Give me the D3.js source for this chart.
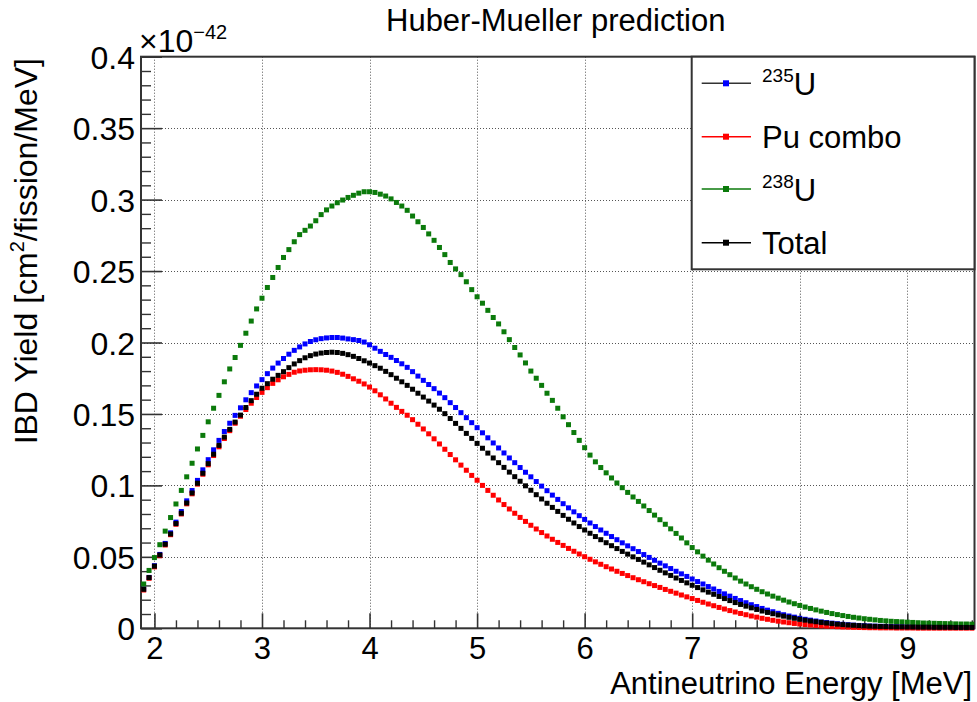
<!DOCTYPE html>
<html>
<head>
<meta charset="utf-8">
<script src="https://cdn.jsdelivr.net/npm/d3@7"></script>
<style>
  html, body { margin: 0; padding: 0; background: #fff; }
  svg { display: block; }
  text { font-family: "Liberation Sans", Arial, Helvetica, sans-serif; fill: #000; }
</style>
</head>
<body>
<script>
// ---------------- DATA (values in units of 1e-42 cm^2/fission/MeV) ----------------
const energies = [
  1.9,1.95,2,2.05,2.1,2.15,2.2,2.25,2.3,2.35,2.4,2.45,2.5,2.55,2.6,2.65,2.7,2.75,2.8,2.85,2.9,2.95,
  3,3.05,3.1,3.15,3.2,3.25,3.3,3.35,3.4,3.45,3.5,3.55,3.6,3.65,3.7,3.75,3.8,3.85,3.9,3.95,
  4,4.05,4.1,4.15,4.2,4.25,4.3,4.35,4.4,4.45,4.5,4.55,4.6,4.65,4.7,4.75,4.8,4.85,4.9,4.95,
  5,5.05,5.1,5.15,5.2,5.25,5.3,5.35,5.4,5.45,5.5,5.55,5.6,5.65,5.7,5.75,5.8,5.85,5.9,5.95,
  6,6.05,6.1,6.15,6.2,6.25,6.3,6.35,6.4,6.45,6.5,6.55,6.6,6.65,6.7,6.75,6.8,6.85,6.9,6.95,
  7,7.05,7.1,7.15,7.2,7.25,7.3,7.35,7.4,7.45,7.5,7.55,7.6,7.65,7.7,7.75,7.8,7.85,7.9,7.95,
  8,8.05,8.1,8.15,8.2,8.25,8.3,8.35,8.4,8.45,8.5,8.55,8.6,8.65,8.7,8.75,8.8,8.85,8.9,8.95,
  9,9.05,9.1,9.15,9.2,9.25,9.3,9.35,9.4,9.45,9.5,9.55,9.6
];

const u235 = [
  0.0273,0.0356,0.0438,0.0517,0.0594,0.0668,0.0743,0.0817,0.0892,0.0964,0.1035,0.1109,0.118,0.1249,0.1315,0.1377,0.1435,0.149,0.1543,0.1599,0.1649,0.1696,
  0.174,0.1782,0.1821,0.1856,0.1888,0.1918,0.1945,0.1969,0.199,0.2007,0.2019,0.2027,0.2032,0.2035,0.2035,0.2031,0.2025,0.202,0.2014,0.2003,
  0.1984,0.196,0.1938,0.1916,0.1896,0.1874,0.1851,0.1826,0.1796,0.1765,0.1735,0.1706,0.1677,0.1646,0.1614,0.1579,0.1545,0.1509,0.1474,0.1439,
  0.1404,0.1368,0.1333,0.1297,0.1262,0.1227,0.1192,0.1159,0.1125,0.1092,0.106,0.1027,0.0995,0.0963,0.0932,0.0902,0.0872,0.0843,0.0815,0.0788,
  0.0762,0.0737,0.0712,0.0688,0.0665,0.0642,0.062,0.0598,0.0577,0.0557,0.0537,0.0516,0.0496,0.0476,0.0456,0.0437,0.0418,0.0399,0.0381,0.0363,
  0.0345,0.0327,0.031,0.0292,0.0275,0.0258,0.0241,0.0225,0.0209,0.0194,0.0179,0.0165,0.0152,0.0139,0.0127,0.0116,0.0105,0.0095,0.0086,0.0078,
  0.007,0.0063,0.0057,0.0051,0.0045,0.004,0.0036,0.0032,0.0028,0.0025,0.0022,0.002,0.0018,0.0016,0.0015,0.0014,0.0013,0.0012,0.0011,0.0011,
  0.001,0.001,0.0009,0.0009,0.0009,0.0008,0.0008,0.0008,0.0007,0.0007,0.0007,0.0007,0.0006
];

const puCombo = [
  0.0268,0.035,0.043,0.0508,0.0583,0.0655,0.0728,0.08,0.0871,0.0941,0.1009,0.1078,0.1144,0.1209,0.127,0.1328,0.1383,0.1435,0.1484,0.1531,0.1575,0.1615,
  0.1651,0.1684,0.1714,0.1739,0.176,0.1777,0.1792,0.1801,0.1806,0.1809,0.181,0.1809,0.1806,0.18,0.1791,0.1778,0.1763,0.1746,0.1729,0.171,
  0.1688,0.1662,0.1634,0.1605,0.1575,0.1546,0.1518,0.1491,0.146,0.1428,0.1395,0.1361,0.1326,0.129,0.1253,0.1216,0.1179,0.1142,0.1106,0.107,
  0.1036,0.1,0.0965,0.0931,0.0898,0.0866,0.0835,0.0805,0.0776,0.0748,0.0721,0.0695,0.067,0.0646,0.0623,0.0601,0.058,0.0559,0.0539,0.052,
  0.0501,0.0483,0.0465,0.0448,0.0431,0.0415,0.0399,0.0384,0.0369,0.0354,0.034,0.0326,0.0312,0.0299,0.0286,0.0272,0.0259,0.0246,0.0233,0.022,
  0.0208,0.0195,0.0182,0.017,0.0158,0.0146,0.0135,0.0124,0.0114,0.0104,0.0095,0.0086,0.0078,0.007,0.0063,0.0056,0.005,0.0044,0.0039,0.0034,
  0.003,0.0026,0.0023,0.002,0.0017,0.0015,0.0013,0.0011,0.0009,0.0008,0.0007,0.0006,0.0005,0.0004,0.0004,0.0003,0.0003,0.0003,0.0002,0.0002,
  0.0002,0.0002,0.0001,0.0001,0.0001,0.0001,0.0001,0.0001,0.0001,0.0001,0.0001,0.0001,0.0001
];

const u238 = [
  0.031,0.0405,0.0495,0.0585,0.068,0.0775,0.087,0.0965,0.106,0.1155,0.1255,0.135,0.1445,0.154,0.163,0.1725,0.1815,0.1895,0.198,0.2065,0.215,0.2235,
  0.231,0.2385,0.2455,0.2525,0.2595,0.265,0.2705,0.2755,0.2785,0.2815,0.2852,0.2895,0.2928,0.2955,0.2978,0.2997,0.3015,0.303,0.3045,0.3055,
  0.3055,0.305,0.3038,0.3025,0.3005,0.298,0.2955,0.2925,0.2885,0.2845,0.2805,0.276,0.2715,0.2665,0.2615,0.256,0.2515,0.2475,0.2425,0.237,
  0.232,0.2275,0.2225,0.2175,0.213,0.2075,0.202,0.1965,0.1913,0.1857,0.18,0.175,0.17,0.1645,0.1595,0.154,0.148,0.1425,0.137,0.1315,
  0.1264,0.1212,0.1165,0.1125,0.1088,0.1052,0.1017,0.0984,0.0951,0.0919,0.0888,0.0856,0.0824,0.0792,0.076,0.0728,0.0696,0.0664,0.0632,0.0598,
  0.0565,0.0535,0.0505,0.0477,0.045,0.0424,0.0399,0.0375,0.0352,0.033,0.031,0.0291,0.0273,0.0256,0.024,0.0225,0.0211,0.0197,0.0184,0.0172,
  0.016,0.0149,0.0139,0.0129,0.012,0.0111,0.0103,0.0096,0.0089,0.0083,0.0077,0.0072,0.0067,0.0063,0.0059,0.0055,0.0052,0.0049,0.0047,0.0045,
  0.0043,0.0041,0.0039,0.0037,0.0036,0.0035,0.0034,0.0033,0.0032,0.0031,0.003,0.003,0.0029
];

const total = [
  0.0273,0.0355,0.0435,0.0513,0.0588,0.066,0.0733,0.0805,0.0877,0.0947,0.1015,0.1085,0.1152,0.1218,0.128,0.1338,0.1392,0.1443,0.1492,0.1545,0.1593,0.1638,
  0.168,0.1712,0.1743,0.177,0.1796,0.1824,0.185,0.1873,0.1893,0.1908,0.1919,0.1926,0.193,0.1932,0.193,0.1924,0.1915,0.1903,0.1888,0.1872,
  0.1856,0.1838,0.182,0.1798,0.1775,0.175,0.1725,0.17,0.1673,0.1645,0.1618,0.159,0.1562,0.1533,0.1502,0.1468,0.1434,0.1399,0.1364,0.1329,
  0.1294,0.126,0.1226,0.1192,0.1159,0.1126,0.1093,0.1061,0.1029,0.0997,0.0966,0.0935,0.0905,0.0875,0.0846,0.0818,0.079,0.0763,0.0737,0.0712,
  0.0688,0.0665,0.0642,0.062,0.0599,0.0578,0.0558,0.0538,0.0519,0.05,0.0482,0.0463,0.0444,0.0425,0.0406,0.0388,0.037,0.0352,0.0335,0.0318,
  0.0301,0.0285,0.0269,0.0253,0.0238,0.0223,0.0208,0.0194,0.018,0.0167,0.0155,0.0143,0.0132,0.0121,0.0111,0.0102,0.0093,0.0085,0.0077,0.007,
  0.0063,0.0057,0.0051,0.0046,0.0041,0.0037,0.0033,0.0029,0.0026,0.0023,0.0021,0.0019,0.0017,0.0015,0.0014,0.0013,0.0012,0.0011,0.001,0.001,
  0.0009,0.0009,0.0008,0.0008,0.0008,0.0007,0.0007,0.0007,0.0007,0.0006,0.0006,0.0006,0.0006
];

const xTickValues = [2, 3, 4, 5, 6, 7, 8, 9];
const xTickLabels = ["2", "3", "4", "5", "6", "7", "8", "9"];
const yTickValues = [0, 0.05, 0.1, 0.15, 0.2, 0.25, 0.3, 0.35, 0.4];
const yTickLabels = ["0", "0.05", "0.1", "0.15", "0.2", "0.25", "0.3", "0.35", "0.4"];
const xMinorTicks = [2.2,2.4,2.6,2.8,3.2,3.4,3.6,3.8,4.2,4.4,4.6,4.8,5.2,5.4,5.6,5.8,6.2,6.4,6.6,6.8,7.2,7.4,7.6,7.8,8.2,8.4,8.6,8.8,9.2,9.4,9.6];
const yMinorTicks = [0.01,0.02,0.03,0.04,0.06,0.07,0.08,0.09,0.11,0.12,0.13,0.14,0.16,0.17,0.18,0.19,0.21,0.22,0.23,0.24,0.26,0.27,0.28,0.29,0.31,0.32,0.33,0.34,0.36,0.37,0.38,0.39];

const seriesLabels = [
  { sup: "235", main: "U" },
  { sup: "", main: "Pu combo" },
  { sup: "238", main: "U" },
  { sup: "", main: "Total" }
];
const seriesColors = ["#0000ff", "#ff0000", "#0b7a0b", "#000000"];
const legendLineColors = ["#333333", "#ff0000", "#0b7a0b", "#000000"];
const seriesData = [u235, puCombo, u238, total];

// ---------------- DRAWING ----------------
(function () {
  const W = 977, H = 702;
  const pL = 141, pR = 974.5, pT = 56.7, pB = 628.3;
  const FONT = 31;
  const FF = '"Liberation Sans", Arial, Helvetica, sans-serif';

  const svg = d3.select("body").append("svg").attr("width", W).attr("height", H);
  svg.append("rect").attr("width", W).attr("height", H).attr("fill", "#fff");

  const x = d3.scaleLinear().domain([1.875, 9.625]).range([pL, pR]);
  const y = d3.scaleLinear().domain([0, 0.4]).range([pB, pT]);

  // grid
  const grid = svg.append("g").attr("stroke", "#555").attr("stroke-width", 1).attr("stroke-dasharray", "1,2");
  grid.selectAll("line.v").data(xTickValues).join("line").attr("class", "v")
    .attr("x1", d => Math.round(x(d)) + 0.5).attr("x2", d => Math.round(x(d)) + 0.5)
    .attr("y1", pT).attr("y2", pB);
  grid.selectAll("line.h").data(yTickValues.filter(d => d > 0 && d < 0.4)).join("line").attr("class", "h")
    .attr("x1", pL).attr("x2", pR)
    .attr("y1", d => Math.round(y(d)) + 0.5).attr("y2", d => Math.round(y(d)) + 0.5);

  // axes (ROOT style: ticks pointing inside)
  const xAxis = d3.axisBottom(x).tickValues(xTickValues).tickFormat((d, i) => xTickLabels[i]).tickSize(-15).tickPadding(9);
  const gx = svg.append("g").attr("transform", `translate(0,${pB})`).call(xAxis);
  gx.select(".domain").remove();
  gx.selectAll("line").attr("stroke", "#333").attr("stroke-width", 1.6);
  gx.selectAll("text").attr("font-size", 31).attr("font-family", FF).attr("fill", "#000");

  const xMinor = d3.axisBottom(x).tickValues(xMinorTicks).tickFormat("").tickSize(-8);
  const gxm = svg.append("g").attr("transform", `translate(0,${pB})`).call(xMinor);
  gxm.select(".domain").remove();
  gxm.selectAll("line").attr("stroke", "#333").attr("stroke-width", 1.4);

  const yAxis = d3.axisLeft(y).tickValues(yTickValues).tickFormat((d, i) => yTickLabels[i]).tickSize(-21).tickPadding(6);
  const gy = svg.append("g").attr("transform", `translate(${pL},0)`).call(yAxis);
  gy.select(".domain").remove();
  gy.selectAll("line").attr("stroke", "#333").attr("stroke-width", 1.6);
  gy.selectAll("text").attr("font-size", 32).attr("font-family", FF).attr("fill", "#000").attr("dy", "0.36em");

  const yMinor = d3.axisLeft(y).tickValues(yMinorTicks).tickFormat("").tickSize(-10);
  const gym = svg.append("g").attr("transform", `translate(${pL},0)`).call(yMinor);
  gym.select(".domain").remove();
  gym.selectAll("line").attr("stroke", "#333").attr("stroke-width", 1.4);

  // frame
  svg.append("rect").attr("x", pL).attr("y", pT).attr("width", pR - pL).attr("height", pB - pT)
    .attr("fill", "none").attr("stroke", "#333").attr("stroke-width", 2);

  // markers
  const MS = 5;
  seriesData.forEach((vals, si) => {
    svg.append("g").attr("fill", seriesColors[si])
      .selectAll("rect").data(energies.map((e, i) => [e, vals[i]])).join("rect")
      .attr("x", d => x(d[0]) - MS / 2).attr("y", d => y(d[1]) - MS / 2)
      .attr("width", MS).attr("height", MS);
  });

  // exponent label
  const expo = svg.append("text").attr("x", 139).attr("y", 52).attr("font-size", 32);
  expo.append("tspan").text("\u00d710");
  expo.append("tspan").attr("font-size", 20).attr("dy", -13).text("\u221242");

  // title
  svg.append("text").attr("x", 386).attr("y", 31).attr("font-size", 31).text("Huber-Mueller prediction");

  // x axis title
  svg.append("text").attr("x", 972).attr("y", 694).attr("text-anchor", "end").attr("font-size", 31)
    .text("Antineutrino Energy [MeV]");

  // y axis title
  const yt = svg.append("text").attr("transform", "translate(37,58) rotate(-90)").attr("text-anchor", "end").attr("font-size", 32);
  yt.append("tspan").text("IBD Yield [cm");
  yt.append("tspan").attr("font-size", 20).attr("dy", -13).text("2");
  yt.append("tspan").attr("dy", 13).text("/fission/MeV]");

  // legend
  const lg = svg.append("g");
  lg.append("rect").attr("x", 691.7).attr("y", pT).attr("width", pR - 691.7).attr("height", 269.3 - pT)
    .attr("fill", "#fff").attr("stroke", "#333").attr("stroke-width", 2);
  const legendY = [83.3, 136.7, 189, 242.7];
  seriesLabels.forEach((s, i) => {
    const cy = legendY[i];
    lg.append("line").attr("x1", 701.7).attr("x2", 751).attr("y1", cy).attr("y2", cy)
      .attr("stroke", legendLineColors[i]).attr("stroke-width", 1.5);
    lg.append("rect").attr("x", 726 - 3).attr("y", cy - 3).attr("width", 6).attr("height", 6).attr("fill", seriesColors[i]);
    const t = lg.append("text").attr("x", 762).attr("y", cy + 11.5).attr("font-size", FONT);
    if (s.sup) {
      t.append("tspan").attr("font-size", 19).attr("dy", -13).text(s.sup);
      t.append("tspan").attr("dy", 13).text(s.main);
    } else {
      t.append("tspan").text(s.main);
    }
  });
})();
</script>
</body>
</html>
